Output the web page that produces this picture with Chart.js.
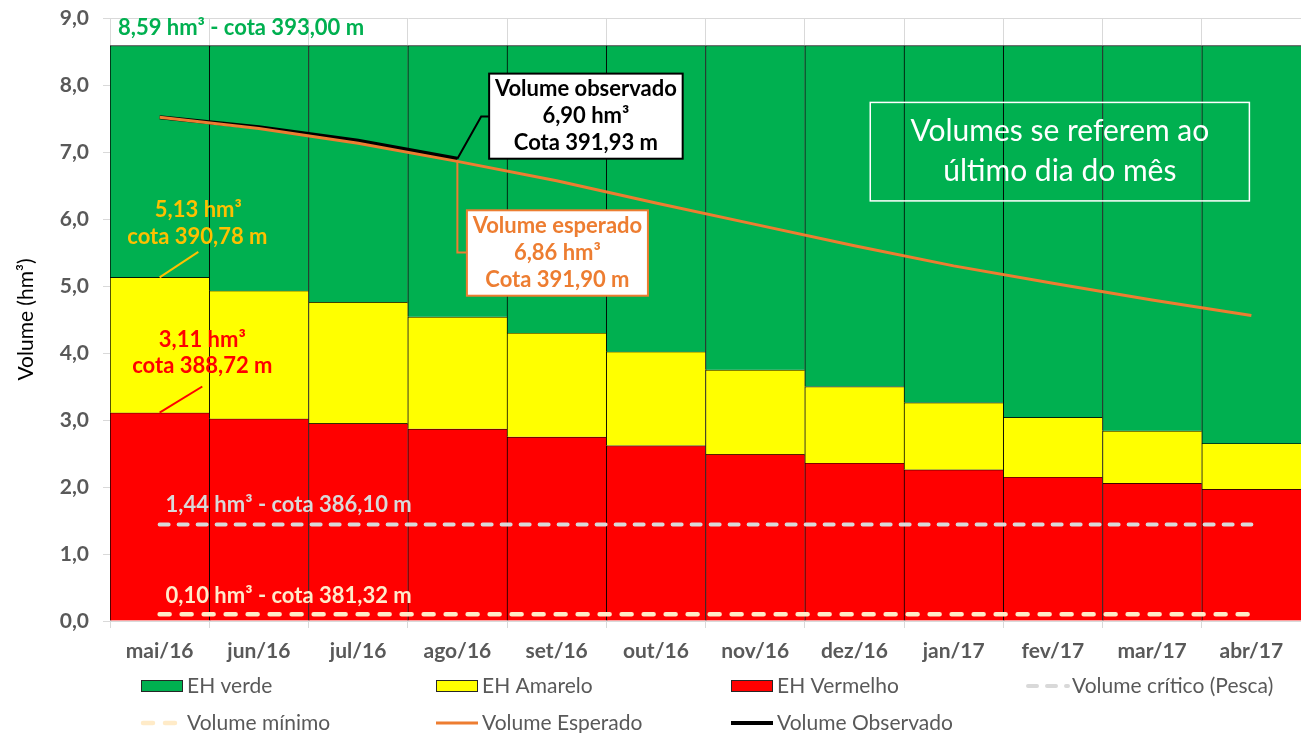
<!DOCTYPE html>
<html>
<head>
<meta charset="utf-8">
<script src="https://cdn.jsdelivr.net/npm/chart.js@4.4.1/dist/chart.umd.min.js"></script>
<style>
  html, body { margin: 0; padding: 0; background: #fff; }
  #wrap { width: 1301px; height: 733px; }
</style>
</head>
<body>
<div id="wrap"><canvas id="myChart" width="1301" height="733"></canvas></div>
<script>
// dados (hm³)
const meses = ['mai/16', 'jun/16', 'jul/16', 'ago/16', 'set/16', 'out/16', 'nov/16', 'dez/16', 'jan/17', 'fev/17', 'mar/17', 'abr/17'];
const volMaximo = [8.59, 8.59, 8.59, 8.59, 8.59, 8.59, 8.59, 8.59, 8.59, 8.59, 8.59, 8.59];
const ehAmarelo = [5.13, 4.93, 4.76, 4.54, 4.30, 4.02, 3.75, 3.50, 3.26, 3.04, 2.84, 2.65];
const ehVermelho = [3.11, 3.02, 2.95, 2.87, 2.75, 2.62, 2.49, 2.36, 2.26, 2.15, 2.06, 1.97];
const volCritico = [1.44, 1.44, 1.44, 1.44, 1.44, 1.44, 1.44, 1.44, 1.44, 1.44, 1.44, 1.44];
const volMinimo = [0.10, 0.10, 0.10, 0.10, 0.10, 0.10, 0.10, 0.10, 0.10, 0.10, 0.10, 0.10];
const volEsperado = [7.52, 7.35, 7.13, 6.86, 6.57, 6.24, 5.92, 5.60, 5.30, 5.04, 4.79, 4.56];
const volObservado = [7.52, 7.37, 7.17, 6.90, null, null, null, null, null, null, null, null];

const FONTE = 'Lato, "Open Sans", sans-serif';
const CINZA = '#595959';

const fmt = v => v.toFixed(1).replace('.', ',');

// barras flutuantes: cada faixa vai do limite inferior ao superior
const faixa = (baixo, alto) => baixo.map((b, i) => [b, alto[i]]);
const zeros = meses.map(() => 0);

const barra = (label, cor, dados) => ({
  type: 'bar',
  label: label,
  data: dados,
  backgroundColor: cor,
  borderColor: '#000',
  borderWidth: { top: 1, left: 1, right: 0, bottom: 0 },
  borderSkipped: false,
  barPercentage: 1,
  categoryPercentage: 1,
  grouped: false,
  order: 10,
});

const linha = (label, cor, dados, largura, traco) => ({
  type: 'line',
  label: label,
  data: dados,
  borderColor: cor,
  backgroundColor: cor,
  borderWidth: largura,
  borderDash: traco || [],
  borderCapStyle: traco ? 'round' : 'butt',
  pointRadius: 0,
  tension: 0,
  spanGaps: false,
  order: 1,
});

const datasets = [
  barra('EH verde', '#00B050', faixa(ehAmarelo, volMaximo)),
  barra('EH Amarelo', '#FFFF00', faixa(ehVermelho, ehAmarelo)),
  barra('EH Vermelho', '#FF0000', faixa(zeros, ehVermelho)),
  linha('Volume crítico (Pesca)', '#D9D9D9', volCritico, 4, [9, 10]),
  linha('Volume mínimo', '#FFEBC8', volMinimo, 4.5, [10, 12]),
  linha('Volume Esperado', '#ED7D31', volEsperado, 3),
  linha('Volume Observado', '#000000', volObservado, 4),
];

// textos e caixas sobre o gráfico
const anotacoes = {
  id: 'anotacoes',
  afterDatasetsDraw(chart) {
    const { ctx, scales: { x, y } } = chart;
    const X = v => x.getPixelForValue(v);
    const Y = v => y.getPixelForValue(v);

    const texto = (s, px, py, cor, tam, peso, alinh) => {
      ctx.save();
      ctx.font = `${peso} ${tam}px ${FONTE}`;
      ctx.fillStyle = cor;
      ctx.textAlign = alinh || 'center';
      ctx.textBaseline = 'middle';
      ctx.fillText(s, px, py);
      ctx.restore();
    };
    const traco = (pts, cor, larg) => {
      ctx.save();
      ctx.strokeStyle = cor;
      ctx.lineWidth = larg;
      ctx.beginPath();
      pts.forEach((p, i) => i ? ctx.lineTo(p[0], p[1]) : ctx.moveTo(p[0], p[1]));
      ctx.stroke();
      ctx.restore();
    };
    const caixa = (x0, y0, x1, y1, fundo, borda, larg) => {
      ctx.save();
      if (fundo) { ctx.fillStyle = fundo; ctx.fillRect(x0, y0, x1 - x0, y1 - y0); }
      ctx.strokeStyle = borda;
      ctx.lineWidth = larg;
      ctx.strokeRect(x0, y0, x1 - x0, y1 - y0);
      ctx.restore();
    };

    const T = 22; // corpo dos rótulos em negrito

    // topo
    texto('8,59 hm³ - cota 393,00 m', x.left + 8, Y(8.85), '#00B050', T, 'bold', 'left');

    // faixa amarela
    texto('5,13 hm³', X(0.39), Y(6.14), '#FFC000', T, 'bold');
    texto('cota 390,78 m', X(0.38), Y(5.73), '#FFC000', T, 'bold');
    traco([[X(0), Y(ehAmarelo[0])], [X(0.39), Y(5.51)]], '#FFC000', 2);

    // faixa vermelha
    texto('3,11 hm³', X(0.43), Y(4.20), '#FF0000', T, 'bold');
    texto('cota 388,72 m', X(0.43), Y(3.80), '#FF0000', T, 'bold');
    traco([[X(0), Y(ehVermelho[0])], [X(0.43), Y(3.50)]], '#FF0000', 2);

    // volumes crítico e mínimo
    texto('1,44 hm³ - cota 386,10 m', X(0.06), Y(1.74), '#D9D9D9', T, 'bold', 'left');
    texto('0,10 hm³ - cota 381,32 m', X(0.06), Y(0.38), '#FFEBCB', T, 'bold', 'left');

    // volume observado
    const obs = volObservado[3];
    traco([[X(3), Y(obs)], [X(3.24), Y(7.53)], [X(3.32), Y(7.53)]], '#000', 2);
    caixa(X(3.32), Y(8.17), X(5.27), Y(6.90), '#fff', '#000', 2);
    const cObs = (Y(8.17) + Y(6.90)) / 2;
    const mObs = (X(3.32) + X(5.27)) / 2;
    texto('Volume observado', mObs, cObs - 27, '#000', T, 'bold');
    texto('6,90 hm³', mObs, cObs, '#000', T, 'bold');
    texto('Cota 391,93 m', mObs, cObs + 27, '#000', T, 'bold');

    // volume esperado
    const esp = volEsperado[3];
    traco([[X(3), Y(esp)], [X(3), Y(5.50)], [X(3.096), Y(5.50)]], '#ED7D31', 2);
    caixa(X(3.096), Y(6.13), X(4.92), Y(4.855), '#fff', '#ED7D31', 2);
    const cEsp = (Y(6.13) + Y(4.855)) / 2;
    const mEsp = (X(3.096) + X(4.92)) / 2;
    texto('Volume esperado', mEsp, cEsp - 27, '#ED7D31', T, 'bold');
    texto('6,86 hm³', mEsp, cEsp, '#ED7D31', T, 'bold');
    texto('Cota 391,90 m', mEsp, cEsp + 27, '#ED7D31', T, 'bold');

    // nota
    caixa(X(7.16), Y(7.74), X(10.98), Y(6.27), null, '#fff', 1.5);
    const cNota = (Y(7.74) + Y(6.27)) / 2;
    const mNota = (X(7.16) + X(10.98)) / 2;
    texto('Volumes se referem ao', mNota, cNota - 20, '#fff', 30, 'normal');
    texto('último dia do mês', mNota, cNota + 20, '#fff', 30, 'normal');
  }
};

// legenda em grade, como no original
const legenda = {
  id: 'legenda',
  afterDraw(chart) {
    const { ctx, chartArea } = chart;
    chart.data.datasets.forEach((ds, i) => {
      const col = i % 4, lin = Math.floor(i / 4);
      const x0 = chartArea.left + 31 + col * 295;
      const y0 = 686 + lin * 37;
      ctx.save();
      if (ds.type === 'bar') {
        ctx.fillStyle = ds.backgroundColor;
        ctx.fillRect(x0, y0 - 6, 42, 12);
        ctx.strokeStyle = '#262626';
        ctx.lineWidth = 1;
        ctx.strokeRect(x0 + 0.5, y0 - 5.5, 41, 11);
      } else {
        ctx.strokeStyle = ds.borderColor;
        ctx.lineWidth = ds.borderWidth;
        ctx.setLineDash(ds.borderDash);
        ctx.lineCap = ds.borderCapStyle;
        ctx.beginPath();
        ctx.moveTo(x0 + (ds.borderDash.length ? 2 : 0), y0);
        ctx.lineTo(x0 + 42, y0);
        ctx.stroke();
      }
      ctx.setLineDash([]);
      ctx.font = `normal 21px ${FONTE}`;
      ctx.fillStyle = CINZA;
      ctx.textBaseline = 'middle';
      ctx.textAlign = 'left';
      ctx.fillText(ds.label, x0 + 46, y0);
      ctx.restore();
    });
  }
};

const config = {
  data: { labels: meses, datasets: datasets },
  options: {
    responsive: false,
    animation: false,
    layout: { padding: { top: 18, right: 0, bottom: 0, left: 0 } },
    plugins: {
      legend: { display: false },
      tooltip: { enabled: false },
    },
    scales: {
      x: {
        offset: true,
        grid: { offset: true, color: '#D9D9D9', tickLength: 7, tickColor: '#D9D9D9' },
        border: { color: '#D9D9D9' },
        ticks: {
          color: CINZA,
          padding: 11,
          font: { family: FONTE, size: 21, weight: 'bold' },
          maxRotation: 0,
        },
        afterFit: s => { s.height = 112; },
      },
      y: {
        min: 0,
        max: 9,
        grid: { color: '#D9D9D9', tickLength: 7, tickColor: '#D9D9D9' },
        border: { color: '#D9D9D9' },
        ticks: {
          stepSize: 1,
          color: CINZA,
          padding: 14,
          font: { family: FONTE, size: 21, weight: 'bold' },
          callback: v => fmt(v),
        },
        title: {
          display: true,
          text: 'Volume (hm³)',
          color: '#000',
          padding: { top: 14, bottom: 0 },
          font: { family: FONTE, size: 21 },
        },
        afterFit: s => {
          s.width = 110;
          // o topo da área fica no padding do layout
          s.paddingTop = 0;
          s.paddingBottom = 0;
        },
      },
    },
  },
  plugins: [anotacoes, legenda],
};

const myChart = new Chart(document.getElementById('myChart'), config);
</script>
</body>
</html>
